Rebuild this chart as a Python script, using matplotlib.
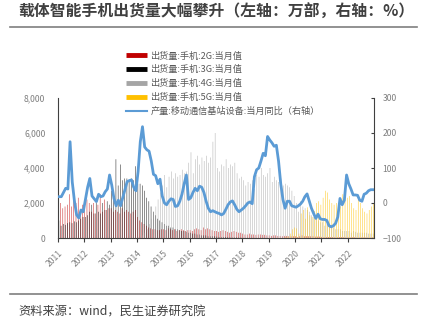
import numpy as np
import matplotlib
matplotlib.use("Agg")
import matplotlib.pyplot as plt
from matplotlib.lines import Line2D
from matplotlib.ticker import FuncFormatter

plt.rcParams['font.family'] = ['Noto Sans CJK SC', 'DejaVu Sans']

years = ['2011', '2012', '2013', '2014', '2015', '2016', '2017', '2018', '2019', '2020', '2021', '2022']

# 出货量:手机:2G:当月值 (万部), monthly 2011-2022
g2 = [1200, 2000, 1700, 1800, 1900, 2500, 1800, 2900, 2000, 2300, 1600, 1900,
      2100, 2200, 2000, 1500, 2000, 1400, 1900, 2500, 1500, 2200, 1600, 1700,
      1700, 1500, 1600, 1500, 1400, 1700, 1500, 1600, 1500, 1400, 1500, 1600,
      1200, 1000, 900, 800, 700, 600, 550, 500, 500, 450, 450, 500,
      500, 450, 550, 500, 450, 500, 400, 450, 500, 450, 400, 450,
      450, 400, 500, 550, 500, 450, 600, 500, 550, 500, 450, 400,
      400, 350, 400, 450, 400, 350, 300, 350, 400, 350, 300, 300,
      250, 200, 200, 250, 200, 200, 180, 200, 200, 180, 180, 150,
      150, 120, 150, 150, 120, 120, 100, 120, 120, 100, 100, 100,
      100, 50, 100, 150, 100, 100, 100, 100, 100, 80, 80, 80,
      60, 50, 60, 60, 50, 50, 50, 50, 50, 50, 40, 40,
      40, 30, 40, 40, 30, 30, 30, 30, 30, 30, 30, 30]

# 出货量:手机:3G:当月值
g3 = [1000, 700, 800, 750, 850, 900, 850, 950, 900, 1000, 1100, 1200,
      1200, 1300, 1500, 1900, 1400, 2000, 1500, 1400, 2000, 1600, 2100, 1900,
      2700, 2500, 4500, 3000, 4200, 3300, 3400, 3400, 3300, 3400, 3300, 4100,
      3100, 3100, 3000, 2700, 2300, 2100, 1800, 1500, 1300, 1100, 1000, 900,
      800, 700, 700, 600, 600, 500, 500, 450, 400, 400, 350, 300,
      300, 250, 250, 200, 200, 150, 150, 150, 100, 100, 100, 100,
      80, 60, 60, 50, 50, 40, 40, 30, 30, 30, 20, 20,
      10, 10, 10, 10, 10, 10, 10, 10, 10, 10, 10, 10,
      0, 0, 0, 0, 0, 0, 0, 0, 0, 0, 0, 0,
      0, 0, 0, 0, 0, 0, 0, 0, 0, 0, 0, 0,
      0, 0, 0, 0, 0, 0, 0, 0, 0, 0, 0, 0,
      0, 0, 0, 0, 0, 0, 0, 0, 0, 0, 0, 0]

# 出货量:手机:4G:当月值
g4 = [0, 0, 0, 0, 0, 0, 0, 0, 0, 0, 0, 0,
      0, 0, 0, 0, 0, 0, 0, 0, 0, 0, 0, 0,
      0, 0, 0, 0, 0, 0, 0, 0, 0, 0, 0, 0,
      30, 70, 150, 300, 500, 800, 1100, 1500, 1800, 2200, 2600, 3000,
      3600, 2900, 3500, 3800, 3400, 3700, 3500, 3600, 3900, 3700, 3800, 4300,
      4900, 3700, 4500, 4700, 4200, 4600, 4400, 4700, 4300, 4600, 5500, 6000,
      4000, 3800, 4200, 4100, 4500, 4000, 4200, 4100, 4300, 3700, 3400, 3500,
      3300, 3000, 3200, 3100, 3300, 2800, 3600, 3500, 4000, 3600, 3500, 3700,
      4000, 3200, 3500, 3300, 3200, 3400, 3000, 3100, 3000, 2900, 2700, 2400,
      2000, 1500, 2100, 1800, 1700, 1600, 1500, 1300, 1200, 1100, 1000, 900,
      900, 700, 800, 700, 600, 600, 500, 500, 500, 400, 400, 400,
      400, 300, 400, 350, 300, 300, 300, 300, 300, 250, 250, 250]

# 出货量:手机:5G:当月值
g5 = [0] * 96 + \
     [0, 0, 0, 0, 0, 0, 0, 50, 100, 250, 500, 600,
      550, 250, 1400, 1600, 1100, 1750, 1300, 1200, 1550, 2000, 2100, 1900,
      2300, 2700, 2600, 2200, 2000, 1900, 2000, 1700, 1800, 2500, 2600, 2300,
      2400, 2000, 1700, 1600, 2200, 2000, 1700, 1500, 1400, 1600, 1800, 2000]

# 产量:移动通信基站设备:当月同比 (%)
yoy = [18, 18, 30, 42, 40, 175, 60, 5, -34, -43, -20, -25,
       10, 45, 70, 20, 12, 4, 25, 18, 20, 32, 40, 80,
       51, 13, -8, 8, -8, 15, 37, 61, 64, 66, 45, 35,
       90, 175, 218, 160, 152, 148, 120, 82, 78, 55, 68, 20,
       0, -5, 5, 12, 10, -10, -8, 5, 25, 55, 80, 10,
       15, 30, 42, 35, 48, 45, 30, 5, -15, -25, -22, -25,
       -28, -30, -34, -30, -18, -5, 3, 6, -5, -18, -25, -20,
       -15, -8, 0, 3, -2, 75, 95, 100, 120, 142, 135, 190,
       180, 172, 162, 165, 120, 55, 10, -15, 5, 5, -8, -10,
       -12, -8, -3, 5, 18, 26, 5, -15, -30, -44, -32, -45,
       -47, -47, -50, -65, -68, -65, -58, -40, 13, -5, 8, 80,
       55, 40, 23, 23, 22, 8, 5, 25, 28, 35, 38, 38]

labels = ['出货量:手机:2G:当月值', '出货量:手机:3G:当月值', '出货量:手机:4G:当月值',
          '出货量:手机:5G:当月值', '产量:移动通信基站设备:当月同比（右轴）']
colors = ['#C00000', '#000000', '#A5A5A5', '#FFC000']
line_color = '#5B9BD5'

W, H = 427, 322
fig = plt.figure(figsize=(W / 100, H / 100), dpi=100)
ax = fig.add_axes([58 / W, 1 - 238 / H, (374 - 58) / W, (238 - 98) / H])
ax2 = ax.twinx()

x = np.arange(len(g2))
bw = 0.2
for k, (vals, c) in enumerate(zip([g2, g3, g4, g5], colors)):
    ax.bar(x + (k - 1.5) * bw, vals, width=bw, color=c, linewidth=0, snap=False)

ax2.plot(x, yoy, color=line_color, lw=2.0, solid_joinstyle='round')

ax.set_xlim(-0.5, len(g2) - 0.5)
ax.set_ylim(0, 8000)
ax2.set_ylim(-100, 300)
ax.set_yticks(np.arange(0, 8001, 2000))
ax2.set_yticks(np.arange(-100, 301, 100))
ax.yaxis.set_major_formatter(FuncFormatter(lambda v, p: f'{int(v):,}'))

ax.set_xticks(np.arange(len(years)) * 12 - 0.5)
ax.set_xticklabels(years, rotation=45, ha='right', rotation_mode='anchor')

tick_color = '#7F7F7F'
ax.tick_params(axis='y', length=0, labelsize=6.2, labelcolor=tick_color, pad=9)
ax.tick_params(axis='x', length=3, width=0.8, color='#404040', labelsize=6.2,
               labelcolor=tick_color, pad=5)
ax2.tick_params(axis='y', direction='in', length=2.5, width=0.8, color='#404040',
                labelsize=6.2, labelcolor=tick_color, pad=6)

for s in ['top', 'right']:
    ax.spines[s].set_visible(False)
for s in ['top', 'left', 'bottom']:
    ax2.spines[s].set_visible(False)
ax.spines['left'].set_color('#404040')
ax.spines['left'].set_linewidth(0.8)
ax.spines['bottom'].set_color('#404040')
ax.spines['bottom'].set_linewidth(0.8)
ax2.spines['right'].set_color('#404040')
ax2.spines['right'].set_linewidth(0.8)

handles = [Line2D([], [], color=c, lw=3.5, solid_capstyle='butt') for c in colors]
handles.append(Line2D([], [], color=line_color, lw=1.5))
fig.legend(handles, labels, loc='upper left', bbox_to_anchor=(126 / W, 1 - 51.5 / H),
           frameon=False, fontsize=6.6, labelcolor='#595959', handlelength=2.3,
           handletextpad=0.35, labelspacing=0.52, borderpad=0, borderaxespad=0)

fig.text(18 / W, 1 - 11.5 / H, '载体智能手机出货量大幅攀升（左轴：万部，右轴：%）',
         fontsize=11.4, fontweight='bold', color='#404040', va='center', ha='left')
fig.add_artist(Line2D([10 / W, 417 / W], [1 - 27 / H] * 2, color='#7F7F7F', lw=1.2))
fig.add_artist(Line2D([10 / W, 417 / W], [1 - 294 / H] * 2, color='#7F7F7F', lw=1.2))
fig.text(18 / W, 1 - 312.5 / H, '资料来源：wind，民生证券研究院', fontsize=8.8,
         color='#404040', va='center', ha='left')

fig.savefig('out.png', dpi=100)
